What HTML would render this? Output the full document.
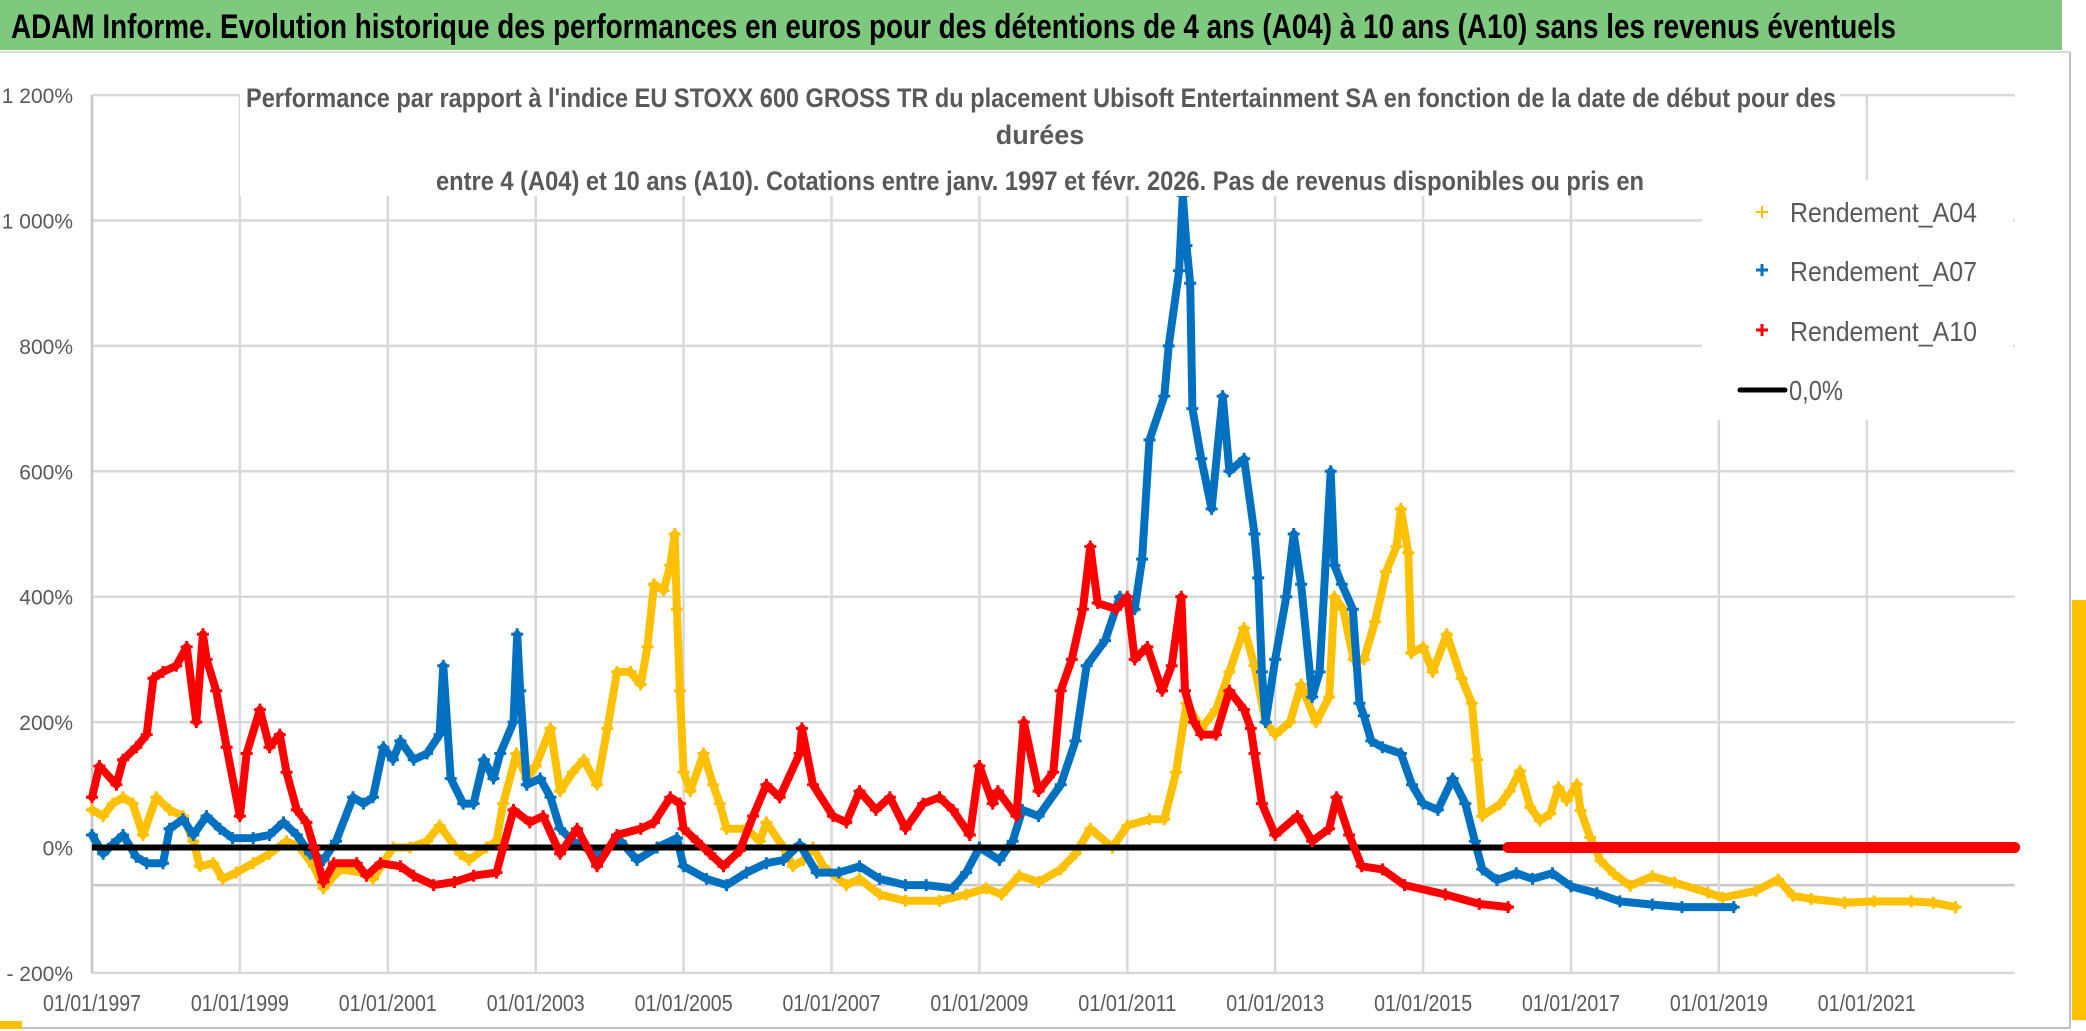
<!DOCTYPE html>
<html><head><meta charset="utf-8"><style>
html,body{margin:0;padding:0;background:#fff;}
svg{display:block;font-family:"Liberation Sans",sans-serif;}
</style></head><body>
<svg id="chart" width="2086" height="1031" viewBox="0 0 2086 1031" xmlns="http://www.w3.org/2000/svg">
<rect x="0" y="0" width="2086" height="1031" fill="#fff"/>
<rect x="0" y="0" width="2062" height="50" fill="#7ec97e"/>
<text x="11" y="38" font-size="34" font-weight="bold" fill="#000" textLength="1885" lengthAdjust="spacingAndGlyphs">ADAM Informe. Evolution historique des performances en euros pour des détentions de 4 ans (A04) à 10 ans (A10) sans les revenus éventuels</text>
<line x1="0" y1="52" x2="2070" y2="52" stroke="#d9d9d9" stroke-width="2"/>
<line x1="2070" y1="52" x2="2070" y2="1028" stroke="#bfbfbf" stroke-width="2"/>
<line x1="0" y1="1028" x2="2070" y2="1028" stroke="#bfbfbf" stroke-width="2"/>
<rect x="0" y="1021" width="22" height="8" fill="#ffc000"/>
<rect x="2072" y="600" width="14" height="420" fill="#ffc000"/>
<g id="grid"></g>
<g id="series"></g>
<rect x="240" y="72" width="1600" height="124" fill="#fff"/>
<g fill="#595959" font-size="27" font-weight="bold">
<text x="246" y="107" textLength="1590" lengthAdjust="spacingAndGlyphs">Performance par rapport à l'indice EU STOXX 600 GROSS TR  du placement Ubisoft Entertainment SA en fonction de la date de début pour des</text>
<text x="1040" y="144" text-anchor="middle">durées</text>
<text x="436" y="190" textLength="1208" lengthAdjust="spacingAndGlyphs">entre 4 (A04) et 10 ans (A10). Cotations entre janv. 1997 et févr. 2026. Pas de revenus disponibles ou pris en</text>
</g>
<g id="axes"></g>
<g>
<rect x="1702" y="180" width="311" height="240" fill="#fff"/>
<g>
<path d="M1756 212h12M1762 206v12" stroke="#ffc000" stroke-width="2"/>
<text x="1790" y="222" font-size="28" fill="#595959" textLength="187" lengthAdjust="spacingAndGlyphs">Rendement_A04</text></g>
<g>
<path d="M1756 270h12M1762 264v12" stroke="#0070c0" stroke-width="3"/>
<text x="1790" y="281" font-size="28" fill="#595959" textLength="187" lengthAdjust="spacingAndGlyphs">Rendement_A07</text></g>
<g>
<path d="M1756 330h12M1762 324v12" stroke="#ff0000" stroke-width="3"/>
<text x="1790" y="341" font-size="28" fill="#595959" textLength="187" lengthAdjust="spacingAndGlyphs">Rendement_A10</text></g>
<g>
<line x1="1740" y1="390" x2="1785" y2="390" stroke="#000" stroke-width="5" stroke-linecap="round"/>
<text x="1789" y="400" font-size="28" fill="#595959" textLength="54" lengthAdjust="spacingAndGlyphs">0,0%</text></g>
</g>
</svg>
<script>
const yTickValues = [1200, 1000, 800, 600, 400, 200, 0, -200];
const yTickLabels = ["1 200%", "1 000%", "800%", "600%", "400%", "200%", "0%", "- 200%"];
const xTickYears = [1997, 1999, 2001, 2003, 2005, 2007, 2009, 2011, 2013, 2015, 2017, 2019, 2021];
const xTickLabels = ["01/01/1997","01/01/1999","01/01/2001","01/01/2003","01/01/2005","01/01/2007","01/01/2009","01/01/2011","01/01/2013","01/01/2015","01/01/2017","01/01/2019","01/01/2021"];
const yearsA04 = [1997.0,1997.15,1997.28,1997.42,1997.55,1997.69,1997.87,1998.05,1998.23,1998.37,1998.46,1998.64,1998.77,1998.95,1999.18,1999.4,1999.63,1999.81,2000.0,2000.13,2000.35,2000.67,2000.8,2001.07,2001.3,2001.53,2001.7,2001.98,2002.1,2002.33,2002.47,2002.56,2002.74,2002.88,2003.0,2003.2,2003.33,2003.5,2003.65,2003.83,2003.97,2004.1,2004.28,2004.42,2004.51,2004.6,2004.73,2004.82,2004.88,2004.91,2004.95,2005.0,2005.09,2005.27,2005.4,2005.49,2005.58,2005.85,2006.03,2006.12,2006.35,2006.48,2006.62,2006.75,2006.89,2007.2,2007.38,2007.65,2008.0,2008.46,2008.82,2009.09,2009.3,2009.54,2009.8,2010.1,2010.3,2010.5,2010.8,2011.0,2011.3,2011.5,2011.66,2011.8,2012.0,2012.2,2012.38,2012.58,2012.72,2012.87,2013.0,2013.2,2013.35,2013.55,2013.73,2013.8,2013.92,2014.06,2014.2,2014.35,2014.5,2014.64,2014.7,2014.8,2014.84,2015.0,2015.13,2015.32,2015.52,2015.66,2015.73,2015.8,2016.04,2016.17,2016.31,2016.45,2016.58,2016.72,2016.83,2016.94,2017.08,2017.13,2017.26,2017.4,2017.58,2017.8,2018.1,2018.4,2018.85,2019.05,2019.5,2019.8,2020.0,2020.25,2020.7,2021.1,2021.6,2021.9,2022.2];
const valsA04 = [60,50,70,80,70,20,80,60,50,10,-30,-25,-50,-40,-25,-10,10,0,-30,-65,-35,-40,-50,0,0,10,35,-10,-20,0,10,70,150,110,130,190,90,120,140,100,190,280,280,260,320,420,410,450,500,380,250,120,90,150,100,70,30,30,10,40,0,-30,-20,0,-30,-60,-50,-75,-85,-85,-75,-65,-75,-45,-55,-35,-10,30,0,35,45,45,120,230,190,220,280,350,290,200,180,200,260,200,240,400,380,300,300,360,440,480,540,470,310,320,280,340,270,230,140,50,69,90,122,64,43,54,96,75,101,59,16,-21,-42,-61,-46,-56,-72,-80,-69,-51,-77,-82,-88,-86,-86,-88,-95];
const yearsA07 = [1997.0,1997.15,1997.28,1997.42,1997.6,1997.74,1997.96,1998.05,1998.23,1998.37,1998.55,1998.73,1998.9,1999.18,1999.4,1999.59,1999.77,1999.95,2000.13,2000.3,2000.53,2000.67,2000.8,2000.94,2001.07,2001.17,2001.35,2001.53,2001.7,2001.75,2001.85,2002.02,2002.16,2002.3,2002.43,2002.52,2002.7,2002.75,2002.79,2002.88,2003.06,2003.2,2003.33,2003.5,2003.83,2004.15,2004.37,2004.64,2004.91,2005.0,2005.31,2005.58,2005.85,2006.12,2006.35,2006.57,2006.8,2007.1,2007.38,2007.65,2008.0,2008.28,2008.64,2008.82,2009.0,2009.27,2009.45,2009.58,2009.8,2010.1,2010.3,2010.45,2010.7,2010.9,2011.1,2011.2,2011.3,2011.5,2011.56,2011.7,2011.75,2011.8,2011.85,2011.88,2012.0,2012.14,2012.29,2012.38,2012.58,2012.72,2012.77,2012.82,2012.87,2013.0,2013.15,2013.25,2013.35,2013.5,2013.6,2013.75,2013.8,2013.9,2014.05,2014.14,2014.2,2014.3,2014.45,2014.7,2014.85,2015.0,2015.2,2015.4,2015.57,2015.7,2015.8,2016.0,2016.26,2016.48,2016.75,2017.0,2017.35,2017.66,2018.1,2018.5,2019.2];
const valsA07 = [20,-10,5,20,-15,-25,-25,30,45,20,50,30,15,15,20,40,20,-10,-20,10,80,70,80,160,140,170,140,150,180,290,110,70,70,140,110,150,200,340,250,100,110,80,30,10,-10,10,-20,0,15,-30,-50,-60,-40,-25,-20,5,-40,-40,-30,-50,-60,-60,-65,-40,0,-20,10,60,50,100,170,290,330,400,380,460,650,720,800,920,1040,960,900,700,620,540,720,600,620,500,430,280,200,300,400,500,420,240,280,600,450,420,380,230,210,170,160,150,100,70,60,110,70,10,-35,-52,-41,-50,-41,-62,-73,-86,-91,-95,-95];
const yearsA10 = [1997.0,1997.1,1997.33,1997.42,1997.6,1997.74,1997.83,1997.96,1998.14,1998.28,1998.41,1998.5,1998.55,1998.68,1998.82,1999.0,1999.09,1999.27,1999.4,1999.54,1999.63,1999.77,1999.9,2000.0,2000.13,2000.27,2000.58,2000.71,2000.9,2001.17,2001.35,2001.62,2001.9,2002.16,2002.47,2002.56,2002.7,2002.92,2003.1,2003.33,2003.56,2003.83,2004.1,2004.42,2004.6,2004.82,2004.95,2005.0,2005.18,2005.36,2005.54,2005.76,2005.94,2006.12,2006.3,2006.57,2006.6,2006.75,2007.02,2007.2,2007.38,2007.6,2007.79,2008.0,2008.24,2008.46,2008.64,2008.87,2009.0,2009.18,2009.25,2009.5,2009.6,2009.8,2010.0,2010.1,2010.25,2010.4,2010.5,2010.6,2010.85,2011.0,2011.1,2011.27,2011.47,2011.6,2011.73,2011.78,2011.9,2012.0,2012.2,2012.38,2012.58,2012.67,2012.72,2012.82,2013.0,2013.3,2013.5,2013.73,2013.83,2014.0,2014.17,2014.45,2014.75,2015.3,2015.76,2016.15];
const valsA10 = [80,130,100,140,160,180,270,280,290,320,200,340,300,250,160,50,150,220,160,180,120,60,40,0,-55,-25,-25,-45,-25,-30,-45,-60,-55,-45,-40,0,60,40,50,-10,30,-30,20,30,40,80,70,30,10,-10,-30,-5,50,100,80,150,190,100,50,40,90,60,80,30,70,80,60,20,130,70,90,50,200,90,120,250,300,380,480,390,380,400,300,320,250,290,400,250,200,180,180,250,220,190,150,70,20,50,10,30,80,20,-30,-35,-60,-75,-90,-95];
const yearsA10Flat = [2016.15, 2023.0];
const valsA10Flat = [0, 0];
const zeroLineValue = 0;
const refLineValue = -60;

const NS = "http://www.w3.org/2000/svg";
const X0 = 92, PXY = 73.95, Y0 = 847.5, PXV = 0.627;
function xs(yr){ return X0 + (yr - 1997) * PXY; }
function ys(v){ return Y0 - v * PXV; }
function mk(tag, attrs, parent){ const e = document.createElementNS(NS, tag); for (const k in attrs) e.setAttribute(k, attrs[k]); parent.appendChild(e); return e; }

const grid = document.getElementById('grid');
const axes = document.getElementById('axes');
const series = document.getElementById('series');
const xEnd = xs(2023);

yTickValues.forEach((v, i) => {
  const ln = mk('line', {x1: X0, x2: xEnd, y1: ys(v), y2: ys(v), stroke: '#d9d9d9', 'stroke-width': 2.5}, grid);
  
  
  const t = mk('text', {x: 73, y: ys(v) + 8, 'text-anchor': 'end', 'font-size': 21, fill: '#595959'}, axes);
  
  
  t.textContent = yTickLabels[i];
});
const rl = mk('line', {x1: X0, x2: xEnd, y1: ys(refLineValue), y2: ys(refLineValue), stroke: '#c8c8c8', 'stroke-width': 2.5}, grid);


xTickYears.forEach((yr, i) => {
  const ln = mk('line', {x1: xs(yr), x2: xs(yr), y1: ys(1200), y2: ys(-200), stroke: '#d9d9d9', 'stroke-width': 2.5}, grid);
  
  
  const t = mk('text', {x: xs(yr), y: 1011, 'text-anchor': 'middle', 'font-size': 23, fill: '#595959', textLength: 98, lengthAdjust: 'spacingAndGlyphs'}, axes);
  
  
  t.textContent = xTickLabels[i];
});
const ya = mk('line', {x1: X0, x2: X0, y1: ys(1200), y2: ys(-200), stroke: '#c8c8c8', 'stroke-width': 2.5}, grid);



function drawSeries(years, vals, color, name, band, plus){
  const g = mk('g', {}, series);
  
  
  const pts = years.map((yr, i) => xs(yr).toFixed(1) + ',' + ys(vals[i]).toFixed(1)).join(' ');
  const pl = mk('polyline', {points: pts, fill: 'none', stroke: color, 'stroke-width': band, 'stroke-linejoin': 'round', 'stroke-linecap': 'round'}, g);
  
  
  if (plus) {
    let d = '';
    years.forEach((yr, i) => { const x = xs(yr), y = ys(vals[i]); d += 'M' + (x-6).toFixed(1) + ' ' + y.toFixed(1) + 'h12M' + x.toFixed(1) + ' ' + (y-6).toFixed(1) + 'v12'; });
    const p = mk('path', {d: d, stroke: color, 'stroke-width': 3, fill: 'none'}, g);
    
    
  }
}
drawSeries(yearsA04, valsA04, '#ffc000', 'series-a04', 8, true);
drawSeries(yearsA07, valsA07, '#0070c0', 'series-a07', 8, true);
const zl = mk('line', {x1: X0, x2: xEnd, y1: ys(zeroLineValue), y2: ys(zeroLineValue), stroke: '#000', 'stroke-width': 6}, series);


drawSeries(yearsA10, valsA10, '#ff0000', 'series-a10', 8, true);
drawSeries(yearsA10Flat, valsA10Flat, '#ff0000', 'series-a10-flat', 11, false);
</script>
</body></html>
